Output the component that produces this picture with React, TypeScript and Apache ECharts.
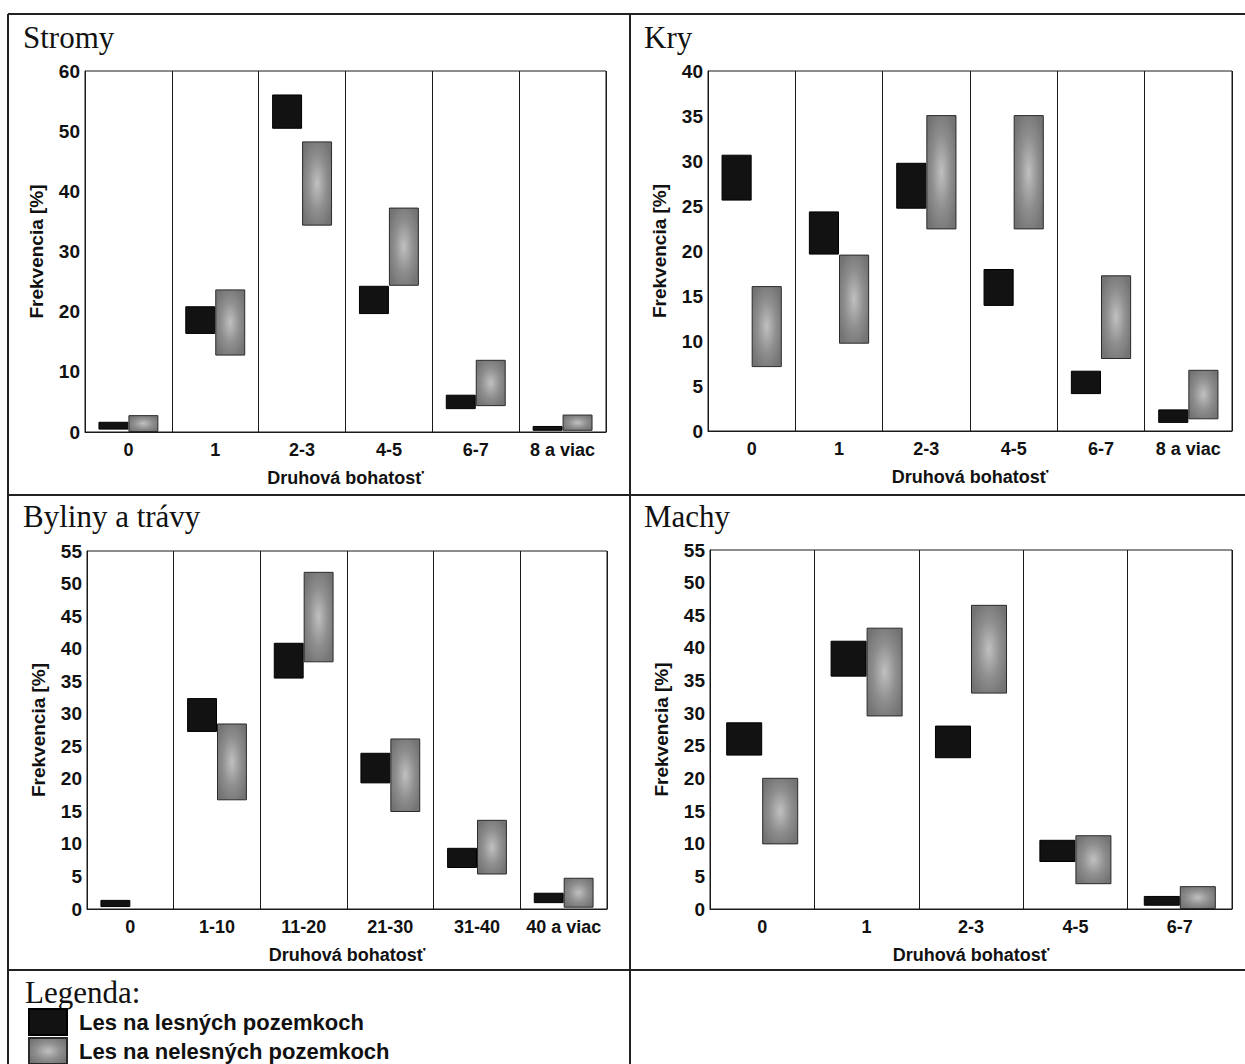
import React, { useEffect, useRef } from "react";
import * as echarts from "echarts";

// ---- Data ----
const catsStromy = ["0", "1", "2-3", "4-5", "6-7", "8 a viac"];
const stromyLesLow = [0.4, 16.3, 50.4, 19.6, 3.8, 0.2];
const stromyLesHigh = [1.7, 20.9, 56.1, 24.3, 6.2, 1.0];
const stromyNelesLow = [0, 12.7, 34.3, 24.3, 4.3, 0.2];
const stromyNelesHigh = [2.8, 23.7, 48.3, 37.3, 12.0, 2.9];

const catsKry = ["0", "1", "2-3", "4-5", "6-7", "8 a viac"];
const kryLesLow = [25.6, 19.6, 24.7, 13.9, 4.1, 0.9];
const kryLesHigh = [30.7, 24.4, 29.8, 18.0, 6.7, 2.4];
const kryNelesLow = [7.1, 9.7, 22.4, 22.4, 8.0, 1.3];
const kryNelesHigh = [16.1, 19.6, 35.1, 35.1, 17.3, 6.8];

const catsByliny = ["0", "1-10", "11-20", "21-30", "31-40", "40 a viac"];
const bylinyLesLow = [0.3, 27.2, 35.4, 19.3, 6.3, 0.9];
const bylinyLesHigh = [1.4, 32.4, 40.9, 24.0, 9.4, 2.5];
const bylinyNelesLow = [null, 16.7, 37.9, 14.9, 5.3, 0.2];
const bylinyNelesHigh = [null, 28.5, 51.8, 26.2, 13.7, 4.8];

const catsMachy = ["0", "1", "2-3", "4-5", "6-7"];
const machyLesLow = [23.5, 35.6, 23.1, 7.2, 0.5];
const machyLesHigh = [28.6, 41.1, 28.1, 10.6, 2.0];
const machyNelesLow = [9.9, 29.5, 33.0, 3.8, 0];
const machyNelesHigh = [20.1, 43.1, 46.6, 11.3, 3.5];

const seriesLes = "Les na lesných pozemkoch";
const seriesNeles = "Les na nelesných pozemkoch";
const xName = "Druhová bohatosť";
const yName = "Frekvencia [%]";

const panelTitles = ["Stromy", "Kry", "Byliny a trávy", "Machy"];

const SANS = "'Liberation Sans', Arial, Helvetica, sans-serif";
const SERIF = "'Liberation Serif', 'Times New Roman', serif";

const blackStyle = { color: "#121212", borderColor: "#000", borderWidth: 1 };
const grayStyle = {
  color: {
    type: "radial",
    x: 0.5,
    y: 0.5,
    r: 0.6,
    colorStops: [
      { offset: 0, color: "#c0c0c0" },
      { offset: 0.55, color: "#8e8e8e" },
      { offset: 1, color: "#737373" },
    ],
  },
  borderColor: "#2a2a2a",
  borderWidth: 1,
};

type Panel = {
  cats: string[];
  lesLow: (number | null)[];
  lesHigh: (number | null)[];
  nelesLow: (number | null)[];
  nelesHigh: (number | null)[];
  max: number;
  interval: number;
  grid: { left: number; top: number; width: number; height: number };
};

const panels: Panel[] = [
  {
    cats: catsStromy, lesLow: stromyLesLow, lesHigh: stromyLesHigh,
    nelesLow: stromyNelesLow, nelesHigh: stromyNelesHigh, max: 60, interval: 10,
    grid: { left: 85, top: 71, width: 521, height: 361 },
  },
  {
    cats: catsKry, lesLow: kryLesLow, lesHigh: kryLesHigh,
    nelesLow: kryNelesLow, nelesHigh: kryNelesHigh, max: 40, interval: 5,
    grid: { left: 708, top: 71, width: 524, height: 360 },
  },
  {
    cats: catsByliny, lesLow: bylinyLesLow, lesHigh: bylinyLesHigh,
    nelesLow: bylinyNelesLow, nelesHigh: bylinyNelesHigh, max: 55, interval: 5,
    grid: { left: 87, top: 551, width: 520, height: 358 },
  },
  {
    cats: catsMachy, lesLow: machyLesLow, lesHigh: machyLesHigh,
    nelesLow: machyNelesLow, nelesHigh: machyNelesHigh, max: 55, interval: 5,
    grid: { left: 710, top: 550, width: 522, height: 359 },
  },
];

const diff = (lo: (number | null)[], hi: (number | null)[]) =>
  lo.map((l, i) => (l == null || hi[i] == null ? "-" : +((hi[i] as number) - l).toFixed(2)));
const base = (lo: (number | null)[]) => lo.map((l) => (l == null ? "-" : l));

function buildOption() {
  const grid: any[] = [];
  const xAxis: any[] = [];
  const yAxis: any[] = [];
  const series: any[] = [];

  panels.forEach((p, i) => {
    grid.push({
      ...p.grid,
      show: true,
      borderColor: "#1a1a1a",
      borderWidth: 1,
      backgroundColor: "transparent",
    });
    xAxis.push({
      type: "category",
      gridIndex: i,
      data: p.cats,
      boundaryGap: true,
      axisLine: { show: true, lineStyle: { color: "#1a1a1a", width: 1 } },
      axisTick: { show: false },
      splitLine: { show: true, lineStyle: { color: "#1a1a1a", width: 1 } },
      axisLabel: {
        color: "#111",
        fontFamily: SANS,
        fontSize: 18,
        fontWeight: "bold",
        margin: 9,
        interval: 0,
      },
      name: xName,
      nameLocation: "middle",
      nameGap: 37,
      nameTextStyle: { color: "#111", fontFamily: SANS, fontSize: 18, fontWeight: "bold" },
    });
    yAxis.push({
      type: "value",
      gridIndex: i,
      min: 0,
      max: p.max,
      interval: p.interval,
      axisLine: { show: true, lineStyle: { color: "#1a1a1a", width: 1 } },
      axisTick: { show: false },
      splitLine: { show: false },
      axisLabel: {
        color: "#111",
        fontFamily: SANS,
        fontSize: 19,
        fontWeight: "bold",
        margin: 5,
      },
      name: yName,
      nameLocation: "middle",
      nameGap: 39,
      nameRotate: 90,
      nameTextStyle: { color: "#111", fontFamily: SANS, fontSize: 19, fontWeight: "bold" },
    });
    const common = {
      type: "bar",
      xAxisIndex: i,
      yAxisIndex: i,
      barGap: "0%",
      barCategoryGap: "31%",
      silent: true,
    };
    series.push({
      ...common,
      name: "base-les-" + i,
      stack: "les" + i,
      data: base(p.lesLow),
      itemStyle: { color: "transparent", borderWidth: 0 },
    });
    series.push({
      ...common,
      name: seriesLes,
      stack: "les" + i,
      data: diff(p.lesLow, p.lesHigh),
      itemStyle: blackStyle,
    });
    series.push({
      ...common,
      name: "base-neles-" + i,
      stack: "neles" + i,
      data: base(p.nelesLow),
      itemStyle: { color: "transparent", borderWidth: 0 },
    });
    series.push({
      ...common,
      name: seriesNeles,
      stack: "neles" + i,
      data: diff(p.nelesLow, p.nelesHigh),
      itemStyle: grayStyle,
    });
  });

  const lineStyle = { stroke: "#222", lineWidth: 2 };
  const graphic: any[] = [
    { type: "line", shape: { x1: 8, y1: 14, x2: 1245, y2: 14 }, style: lineStyle },
    { type: "line", shape: { x1: 8, y1: 495, x2: 1245, y2: 495 }, style: lineStyle },
    { type: "line", shape: { x1: 8, y1: 970, x2: 1245, y2: 970 }, style: lineStyle },
    { type: "line", shape: { x1: 8, y1: 14, x2: 8, y2: 1064 }, style: lineStyle },
    { type: "line", shape: { x1: 630, y1: 14, x2: 630, y2: 1064 }, style: lineStyle },
  ];
  const titlePos = [
    [23, 37],
    [644, 37],
    [23, 516],
    [644, 516],
  ];
  panelTitles.forEach((t, i) => {
    graphic.push({
      type: "text",
      x: titlePos[i][0],
      y: titlePos[i][1],
      style: {
        text: t,
        fill: "#111",
        font: `31px ${SERIF}`,
        verticalAlign: "middle",
        align: "left",
      },
    });
  });
  graphic.push({
    type: "text",
    x: 25,
    y: 992,
    style: { text: "Legenda:", fill: "#111", font: `31px ${SERIF}`, verticalAlign: "middle" },
  });

  const legendBase = {
    orient: "vertical",
    left: 28,
    itemWidth: 38,
    itemHeight: 26,
    padding: 0,
    icon: "rect",
    selectedMode: false,
    textStyle: {
      color: "#111",
      fontFamily: SANS,
      fontSize: 22,
      fontWeight: "bold",
      padding: [0, 0, 0, 7],
    },
  };

  return {
    animation: false,
    backgroundColor: "#ffffff",
    grid,
    xAxis,
    yAxis,
    series,
    graphic,
    legend: [
      { ...legendBase, data: [seriesLes], top: 1008 },
      { ...legendBase, data: [seriesNeles], top: 1037 },
    ],
  };
}

export default function App() {
  const ref = useRef<HTMLDivElement>(null);
  useEffect(() => {
    if (!ref.current) return;
    const chart = echarts.init(ref.current, undefined, { renderer: "svg" });
    chart.setOption(buildOption() as any);
    return () => chart.dispose();
  }, []);
  return (
    <div
      ref={ref}
      style={{ position: "fixed", left: 0, top: 0, width: 1245, height: 1064, background: "#fff" }}
    />
  );
}
